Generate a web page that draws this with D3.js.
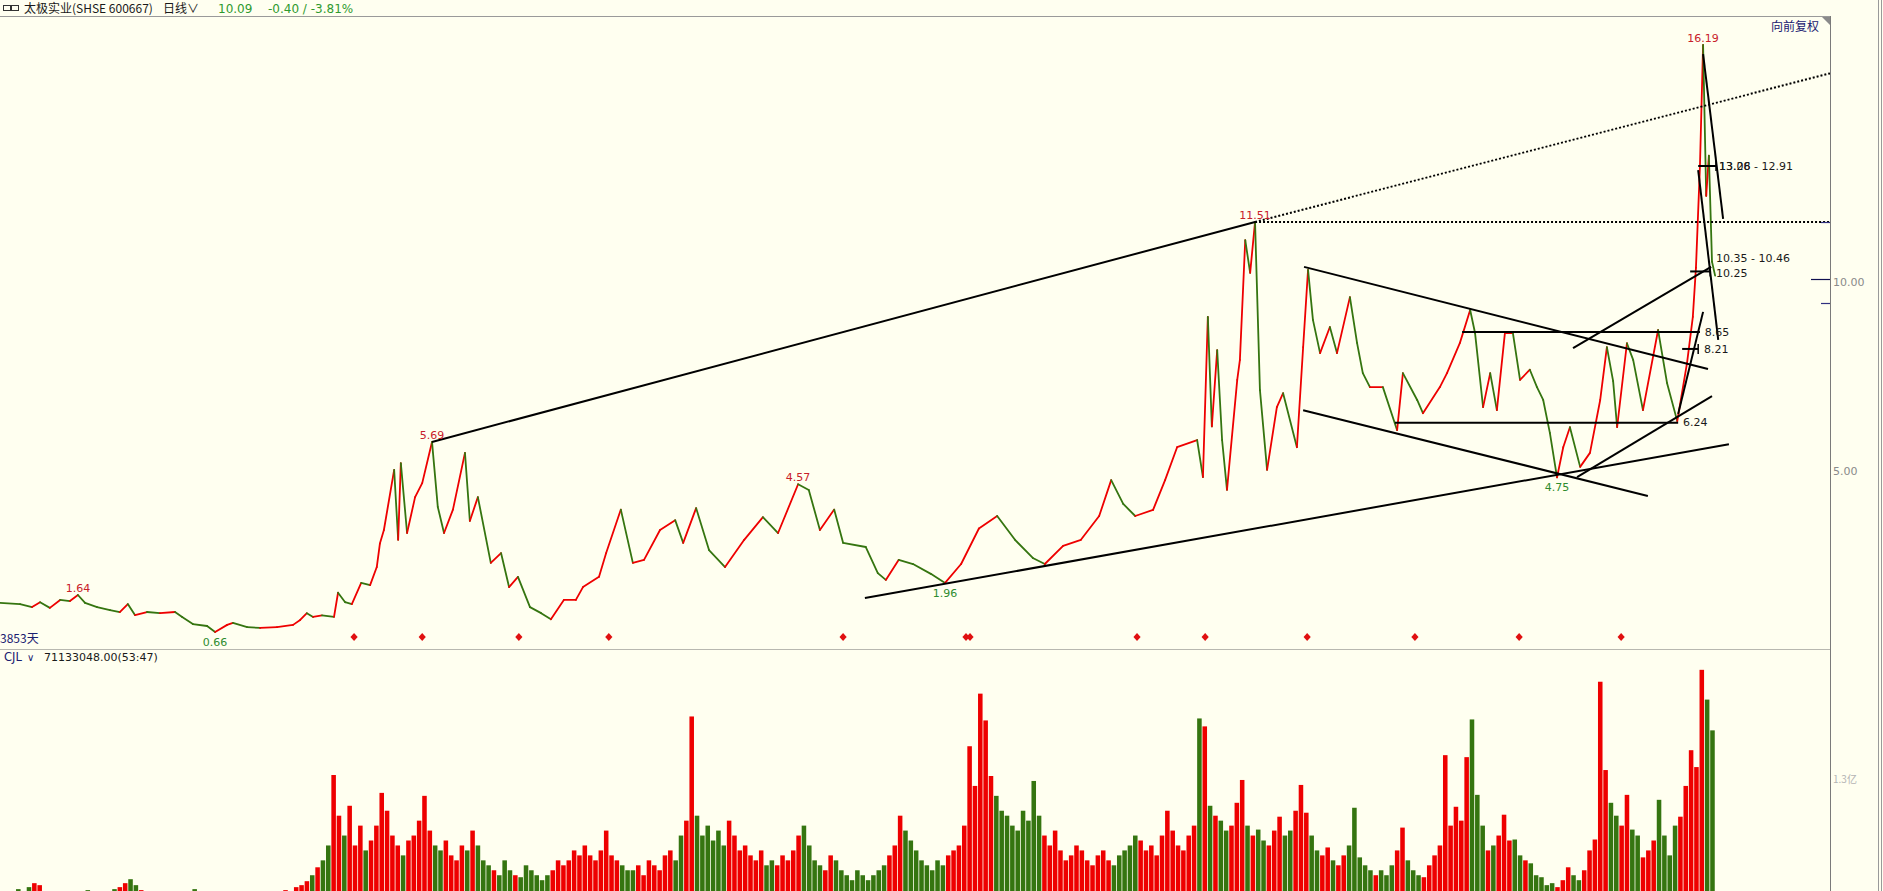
<!DOCTYPE html>
<html>
<head>
<meta charset="utf-8">
<script src="https://cdn.jsdelivr.net/npm/d3@7"></script>
<style>
  html, body { margin: 0; padding: 0; background: #fffff0; overflow: hidden; }
  svg { display: block; }
  text { font-family: "DejaVu Sans", Verdana, sans-serif; }
  .cjk { font-family: "Noto Sans CJK SC", "DejaVu Sans", sans-serif; }
</style>
</head>
<body>
<div id="chart"></div>
<script>
// ── DATA ──────────────────────────────────────────────────────────
const totalDays = 3853;

// trading-day index / close price
const priceDays = [0,45,72,90,112,135,157,175,191,218,247,269,287,303,330,359,393,409,433,465,483,510,523,555,584,622,658,674,689,703,723,750,759,775,790,811,831,846,853,862,885,894,900,914,932,948,970,983,997,1017,1044,1055,1073,1102,1125,1143,1163,1190,1215,1237,1266,1293,1309,1345,1361,1394,1421,1446,1482,1516,1534,1563,1592,1628,1671,1713,1747,1792,1816,1841,1873,1893,1944,1971,1989,2018,2050,2090,2122,2158,2198,2239,2279,2319,2346,2387,2427,2468,2495,2522,2549,2589,2616,2643,2688,2701,2712,2721,2733,2744,2755,2778,2784,2796,2807,2818,2829,2845,2867,2881,2912,2926,2937,2948,2964,2986,3002,3031,3047,3060,3076,3105,3137,3150,3182,3195,3233,3249,3278,3301,3312,3330,3346,3361,3379,3397,3413,3435,3451,3465,3480,3496,3510,3525,3548,3570,3593,3608,3622,3631,3653,3667,3689,3723,3743,3766,3788,3801,3808,3817,3824,3831,3837,3844,3851];
const priceValues = [1.43,1.40,1.32,1.45,1.30,1.51,1.48,1.64,1.43,1.32,1.24,1.19,1.40,1.11,1.19,1.16,1.19,1.06,0.87,0.82,0.66,0.85,0.90,0.79,0.77,0.79,0.85,0.98,1.16,1.06,1.10,1.06,1.70,1.45,1.40,1.96,1.90,2.38,3.00,3.36,4.95,3.10,5.13,3.28,4.23,4.60,5.69,3.97,3.28,3.90,5.40,3.60,4.23,2.49,2.75,1.85,2.12,1.32,1.16,1.00,1.51,1.51,1.85,2.12,2.75,3.90,2.49,2.57,3.36,3.62,3.02,3.94,2.83,2.38,3.10,3.70,3.28,4.57,4.42,3.36,3.90,3.02,2.91,2.22,2.04,2.57,2.46,2.20,1.96,2.46,3.40,3.73,3.10,2.62,2.46,2.94,3.10,3.73,4.68,4.05,3.73,3.89,4.68,5.55,5.74,4.76,9.00,6.10,8.12,5.74,4.42,7.33,7.86,11.03,10.16,11.51,7.06,4.95,6.61,6.98,5.55,8.20,10.24,8.92,8.04,8.73,8.04,9.52,8.31,7.51,7.14,7.14,6.00,7.51,6.80,6.45,7.14,7.51,8.31,9.18,8.57,6.61,7.51,6.53,8.57,8.57,7.33,7.60,7.14,6.80,5.93,4.75,5.55,6.08,5.03,5.40,6.80,8.20,7.30,6.08,8.30,7.86,6.53,8.65,7.25,6.24,7.78,9.00,10.30,13.00,16.19,12.20,13.26,10.46,10.09];

// volume, millions of shares, one value per 12 trading days
const volStep = 12;
const volumes = [
  12,14,10,16,12,18,22,20,14,12, 10,12,14,11,9,12,15,13,10,12,
  14,16,18,22,26,20,15,12,10,9, 10,12,11,9,10,14,16,12,10,8,
  9,10,12,11,8,9,10,12,14,11, 10,12,13,15,14,18,20,24,30,38, 45,
  60,131,90,70,100,60,80,
  55,65,80,113,95,70,60,50,65,
  70,85,110,75,60,55,65,50,45,60,55,75,60,45,
  40,35,30,45,35,30,28,40,35,30,25,30,35,45,40,
  45,55,50,60,50,45,55,75,50,45,40,35,
  35,40,30,45,40,35,50,55,45,70,85,
  190,90,70,
  80,65,75,60,85,70,55,60,50,45,55,40,
  45,40,50,45,55,70,80,60,45,40,35,50,45,35,
  30,25,35,30,25,30,35,40,50,
  60,90,75,65,55,45,40,
  35,45,40,50,55,60,
  80,160,120,213,186,130,110,95,
  90,80,75,95,85,125,90,70,60,75,55,
  45,50,60,55,45,40,50,55,45,40,50,
  55,60,70,65,55,60,50,70,95,75,60,55,70,80,
  188,180,100,90,
  85,75,80,103,126,80,
  70,76,65,60,75,89,70,
  75,95,121,93,70,55,
  50,58,45,40,50,60,98,
  48,40,35,30,35,30,40,55,78,
  45,35,30,28,40,50,
  60,151,80,99,85,149,187,111,
  80,55,60,70,91,65,66,50,45,42,30,
  28,20,22,18,25,38,30,25,35,55,
  66,225,136,103,90,80,
  111,76,70,48,55,65,106,
  70,50,80,89,120,156,139,237,207,176
];

// labelled highs / lows
const extremeDays   = [175, 483, 970, 1792, 2122, 2818, 3496, 3824];
const extremeValues = [1.64, 0.66, 5.69, 4.57, 1.96, 11.51, 4.75, 16.19];
const extremeKinds  = ['high','low','high','high','low','high','low','high'];

// event markers (red diamonds)
const eventDays = [795, 948, 1165, 1367, 1893, 2169, 2178, 2553, 2706, 2935, 3177, 3411, 3640];

// drawn trend lines [day, price]
const trendStarts = [[970,5.69],[1942,1.56],[2928,10.32],[2926,6.53],[3283,8.6],[3132,6.2],[3541,4.76],[3532,8.17],[3768,6.43],[3824,15.95],[3813,12.88]];
const trendEnds   = [[2818,11.51],[3882,5.63],[3835,7.62],[3700,4.26],[3817,8.6],[3768,6.2],[3844,6.9],[3842,10.32],[3824,9.13],[3869,11.59],[3858,8.39]];
const dottedStarts = [[2818,11.51],[2818,11.51]];
const dottedEnds   = [[4109,15.44],[4109,11.51]];

// price marks: [fromDay, toDay, price]
const markLevels = [[3813,3853,12.99],[3795,3840,10.2],[3777,3813,8.15]];
const noteTexts  = ['13.08 - 12.91','13.26','10.35 - 10.46','10.25','8.65','8.21','6.24'];
const noteDays   = [3860, 3860, 3853, 3853, 3828, 3826, 3779];
const notePrices = [12.99, 12.99, 10.56, 10.16, 8.6, 8.15, 6.2];

const priceTicks = [5, 10];
const volTicks = [130];

// ── LAYOUT ────────────────────────────────────────────────────────
const W = 1883, H = 891;
const axisX = 1830;
const UP = '#ee0000', DOWN = '#357510';

const x  = d3.scaleLinear().domain([0, totalDays]).range([0, 1716]);
const y  = d3.scaleLinear().domain([5, 10]).range([468, 279]);
const yv = d3.scaleLinear().domain([0, 130]).range([905, 776]);

const svg = d3.select('#chart').append('svg').attr('width', W).attr('height', H);
svg.append('rect').attr('width', W).attr('height', H).attr('fill', '#fffff0');

const defs = svg.append('defs');
defs.append('clipPath').attr('id', 'clipP').append('rect')
  .attr('x', 0).attr('y', 17).attr('width', axisX).attr('height', 631);
defs.append('clipPath').attr('id', 'clipV').append('rect')
  .attr('x', 0).attr('y', 650).attr('width', axisX).attr('height', 241);

// frame lines
svg.append('line').attr('x1', 0).attr('x2', axisX).attr('y1', 16.5).attr('y2', 16.5).attr('stroke', '#9a9a9a');
svg.append('line').attr('x1', 0).attr('x2', axisX).attr('y1', 649.5).attr('y2', 649.5).attr('stroke', '#b8b8b0');
svg.append('line').attr('x1', axisX + 0.5).attr('x2', axisX + 0.5).attr('y1', 16).attr('y2', H).attr('stroke', '#7a7a7a');
svg.append('line').attr('x1', 1878.5).attr('x2', 1878.5).attr('y1', 0).attr('y2', H).attr('stroke', '#9a9a9a');
svg.append('line').attr('x1', 1881.5).attr('x2', 1881.5).attr('y1', 0).attr('y2', H).attr('stroke', '#9a9a9a');
svg.append('path').attr('d', `M${axisX - 8},17 L${axisX},17 L${axisX},25 Z`).attr('fill', '#8a8a8a');

// ── VOLUME ────────────────────────────────────────────────────────
const priceAt = d3.scaleLinear().domain(priceDays).range(priceValues).clamp(true);
const gV = svg.append('g').attr('clip-path', 'url(#clipV)');
gV.selectAll('rect').data(volumes).enter().append('rect')
  .attr('x', (v, i) => x(i * volStep))
  .attr('width', x(volStep) - x(0) - 0.8)
  .attr('y', v => yv(v))
  .attr('height', v => yv(0) - yv(v))
  .attr('fill', (v, i) => priceAt(i * volStep + volStep) >= priceAt(i * volStep) ? UP : DOWN);

// ── PRICE ─────────────────────────────────────────────────────────
const gP = svg.append('g').attr('clip-path', 'url(#clipP)');
const pts = priceDays.map((d, i) => [d, priceValues[i]]);
gP.selectAll('line.seg').data(d3.pairs(pts)).enter().append('line')
  .attr('class', 'seg')
  .attr('x1', p => x(p[0][0])).attr('y1', p => y(p[0][1]))
  .attr('x2', p => x(p[1][0])).attr('y2', p => y(p[1][1]))
  .attr('stroke', p => p[1][1] >= p[0][1] ? UP : DOWN)
  .attr('stroke-width', 1.8)
  .attr('stroke-linecap', 'round');

// trend lines
gP.selectAll('line.trend').data(d3.zip(trendStarts, trendEnds)).enter().append('line')
  .attr('class', 'trend')
  .attr('x1', p => x(p[0][0])).attr('y1', p => y(p[0][1]))
  .attr('x2', p => x(p[1][0])).attr('y2', p => y(p[1][1]))
  .attr('stroke', '#000').attr('stroke-width', 2);

gP.selectAll('line.dotted').data(d3.zip(dottedStarts, dottedEnds)).enter().append('line')
  .attr('class', 'dotted')
  .attr('x1', p => x(p[0][0])).attr('y1', p => y(p[0][1]))
  .attr('x2', p => x(p[1][0])).attr('y2', p => y(p[1][1]))
  .attr('stroke', '#000').attr('stroke-width', 2).attr('stroke-dasharray', '2,2');

// price marks (short horizontal with end tick)
markLevels.forEach(m => {
  gP.append('line').attr('x1', x(m[0])).attr('x2', x(m[1]))
    .attr('y1', y(m[2])).attr('y2', y(m[2])).attr('stroke', '#000').attr('stroke-width', 2);
  gP.append('line').attr('x1', x(m[1])).attr('x2', x(m[1]))
    .attr('y1', y(m[2]) - 5).attr('y2', y(m[2]) + 5).attr('stroke', '#000').attr('stroke-width', 1.5);
});

gP.selectAll('text.note').data(noteTexts).enter().append('text')
  .attr('class', 'note')
  .attr('x', (t, i) => x(noteDays[i]))
  .attr('y', (t, i) => y(notePrices[i]))
  .attr('dy', '0.35em')
  .attr('font-size', 11)
  .attr('fill', '#1a1a1a')
  .text(t => t);

// high / low labels
gP.selectAll('text.ext').data(extremeValues).enter().append('text')
  .attr('class', 'ext')
  .attr('x', (v, i) => x(extremeDays[i]))
  .attr('y', (v, i) => extremeKinds[i] === 'high' ? y(v) - 3 : y(v) + 14)
  .attr('text-anchor', 'middle')
  .attr('font-size', 11)
  .attr('fill', (v, i) => extremeKinds[i] === 'high' ? '#c8202a' : '#2e8b2e')
  .text(v => v.toFixed(2));

// event diamonds
svg.selectAll('path.evt').data(eventDays).enter().append('path')
  .attr('class', 'evt')
  .attr('transform', d => `translate(${x(d)},637)`)
  .attr('d', 'M0,-4L3.6,0L0,4L-3.6,0Z')
  .attr('fill', '#e01010');

// ── AXES ──────────────────────────────────────────────────────────
const axP = svg.append('g').attr('transform', `translate(${axisX},3)`)
  .call(d3.axisRight(y).tickValues(priceTicks).tickFormat(d3.format('.2f')).tickSize(0).tickPadding(3));
axP.select('.domain').remove();
axP.selectAll('text').attr('fill', '#8a8a8a').style('font-size', '11px').style('font-family', '"DejaVu Sans", sans-serif');

const axV = svg.append('g').attr('transform', `translate(${axisX},3)`)
  .call(d3.axisRight(yv).tickValues(volTicks).tickFormat(v => (v / 100).toFixed(1) + '亿').tickSize(0).tickPadding(3));
axV.select('.domain').remove();
axV.selectAll('text').attr('fill', '#b4b4b4').style('font-size', '10px').attr('class', 'cjk');

// right-side level marks
svg.append('line').attr('x1', 1811).attr('x2', axisX).attr('y1', y(10) + 0.5).attr('y2', y(10) + 0.5).attr('stroke', '#101050').attr('stroke-width', 1.2);
[9.37, 11.51].forEach(p => {
  svg.append('line').attr('x1', 1821).attr('x2', axisX).attr('y1', Math.round(y(p)) + 0.5).attr('y2', Math.round(y(p)) + 0.5)
    .attr('stroke', '#303080').attr('stroke-width', 1.2);
});

// ── TEXTS ─────────────────────────────────────────────────────────
const hdr = svg.append('g');
hdr.append('rect').attr('x', 3.5).attr('y', 5.5).attr('width', 7).attr('height', 5).attr('fill', 'none').attr('stroke', '#333');
hdr.append('rect').attr('x', 11.5).attr('y', 5.5).attr('width', 7).attr('height', 5).attr('fill', 'none').attr('stroke', '#333');
hdr.append('text').attr('class', 'cjk').attr('x', 24).attr('y', 12.5).attr('font-size', 12).attr('fill', '#1a1a1a')
  .text('太极实业(SHSE 600667)');
hdr.append('text').attr('class', 'cjk').attr('x', 163).attr('y', 12.5).attr('font-size', 12).attr('fill', '#1a1a1a')
  .text('日线∨');
hdr.append('text').attr('x', 218).attr('y', 12.5).attr('font-size', 12).attr('fill', '#2f9a2f').text('10.09');
hdr.append('text').attr('x', 268).attr('y', 12.5).attr('font-size', 12).attr('fill', '#2f9a2f').text('-0.40 / -3.81%');

svg.append('text').attr('class', 'cjk').attr('x', 1795).attr('y', 31).attr('text-anchor', 'middle')
  .attr('font-size', 12).attr('fill', '#1a2070').text('向前复权');

svg.append('text').attr('class', 'cjk').attr('x', 0).attr('y', 643).attr('font-size', 12).attr('fill', '#1a2070').text('3853天');
svg.append('text').attr('x', 4).attr('y', 661).attr('font-size', 11.5).attr('fill', '#1a2070').text('CJL');
svg.append('text').attr('x', 27).attr('y', 661).attr('font-size', 10).attr('fill', '#1a2070').text('∨');
svg.append('text').attr('x', 44).attr('y', 661).attr('font-size', 11).attr('fill', '#1a1a1a').text('71133048.00(53:47)');
</script>
</body>
</html>
